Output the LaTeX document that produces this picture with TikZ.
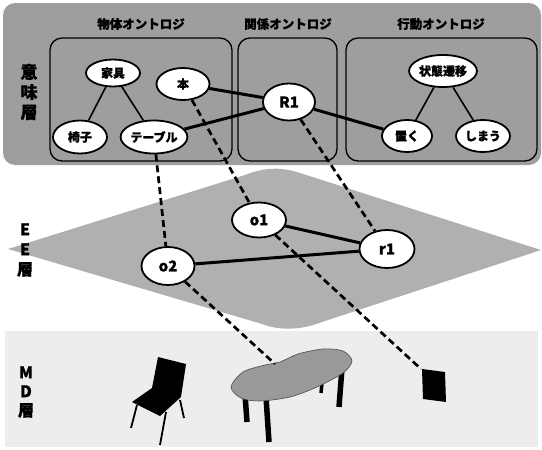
\documentclass[tikz,border=0pt]{standalone}
\usepackage{fontspec}
\newfontfamily\jp{Noto Sans CJK JP}[BoldFeatures={FakeBold=0.8}]
\usetikzlibrary{shapes.geometric}
\definecolor{topgray}{gray}{0.62}
\definecolor{eegray}{gray}{0.69}
\definecolor{mdgray}{gray}{0.93}
\definecolor{tablegray}{gray}{0.60}
\tikzset{
  ont/.style={ellipse, draw, line width=1.8pt, fill=white, inner sep=0pt,
    font=\jp\bfseries\fontsize{12}{12}\selectfont},
  ent/.style={ellipse, draw, line width=1.8pt, fill=white, inner sep=0pt,
    font=\jp\bfseries\fontsize{15}{15}\selectfont},
  ontbox/.style={draw, line width=1.3pt, rounded corners=12pt},
  boxtitle/.style={font=\jp\bfseries\fontsize{12.5}{12.5}\selectfont, inner sep=0pt},
  layerlabel/.style={font=\jp\bfseries\fontsize{16}{20}\selectfont, align=center, inner sep=0pt},
  thinedge/.style={line width=1.6pt},
  thickedge/.style={line width=3pt},
  linkedge/.style={line width=2.7pt, dash pattern=on 7pt off 4pt},
  tableleg/.style={line width=5.5pt},
  chairleg/.style={line width=1.8pt}
}
\begin{document}
\begin{tikzpicture}[x=1pt, y=-1pt]
\useasboundingbox (0,0) rectangle (542,450);
% semantic layer
\fill[topgray, rounded corners=12pt] (3,3) rectangle (541,165);
\draw[ontbox] (50,38) rectangle (232,161);
\draw[ontbox] (238,38) rectangle (337,161);
\draw[ontbox] (346,38) rectangle (537,161);
\node[boxtitle] (t1) at (141,24) {物体オントロジ};
\node[boxtitle] (t2) at (288,24) {関係オントロジ};
\node[boxtitle] (t3) at (441,24) {行動オントロジ};
\node[layerlabel, font=\jp\bfseries\fontsize{17}{20}\selectfont] (L1) at (29,92) {意\\味\\層};
% EE layer
\fill[eegray] (8,249) -- (245,175) .. controls (265,167) and (282,167) .. (300,173)
  -- (541,250) -- (322,322) .. controls (302,330) and (280,331) .. (262,324) -- cycle;
\node[layerlabel] (L2) at (25,250) {E\\E\\層};
% MD layer
\fill[mdgray] (5,331) rectangle (538,447);
\node[layerlabel, font=\jp\bfseries\fontsize{16}{19}\selectfont] (L3) at (26,392) {M\\D\\層};
% chair
\fill[black] (158,357) -- (186,364) -- (181,397) -- (160,416) -- (132,402) -- (152,388) -- cycle;
\draw[chairleg] (137,405) -- (131,428);
\draw[chairleg] (166,412) -- (160,445);
\draw[chairleg] (180,400) -- (184,418);
% table
\draw[tableleg] (245,394) -- (247,422);
\draw[tableleg] (266,397) -- (269,442);
\draw[tableleg] (342,368) -- (339,407);
\draw[line width=3.5pt] (322,383) -- (321,393);
\filldraw[fill=tablegray, draw=black!70, line width=0.6pt] plot[smooth cycle] coordinates
  {(231,387) (243,372) (265,365) (280,362) (298,354) (323,349) (343,351) (352,361) (343,373) (317,387) (290,397) (260,401) (241,398)};
% box
\fill[black] (422,369) -- (445,372) -- (446,402) -- (423,399) -- cycle;
\coordinate (tabletop) at (275,364);
\coordinate (boxtop) at (421,369);
% ontology nodes
\node[ont, minimum width=54pt, minimum height=27pt] (kagu) at (113,73) {家具};
\node[ont, minimum width=53pt, minimum height=32pt] (hon) at (183,84) {本};
\node[ont, minimum width=54pt, minimum height=33pt] (isu) at (80,137) {椅子};
\node[ont, minimum width=53pt, minimum height=33pt] (table) at (154,137) {テーブル};
\node[ent, minimum width=52pt, minimum height=37pt] (R1) at (289,102) {R1};
\node[ont, minimum width=54pt, minimum height=32pt] (jotai) at (443,71) {状態遷移};
\node[ont, minimum width=50pt, minimum height=32pt] (oku) at (407,136) {置く};
\node[ont, minimum width=54pt, minimum height=32pt] (shimau) at (483,136) {しまう};
% EE nodes
\node[ent, minimum width=54pt, minimum height=35pt] (o1) at (259,220) {o1};
\node[ent, minimum width=55pt, minimum height=38pt] (r1) at (387,249) {r1};
\node[ent, minimum width=53pt, minimum height=38pt] (o2) at (168,266) {o2};
% edges
\draw[thinedge] (kagu) -- (isu);
\draw[thinedge] (kagu) -- (table);
\draw[thinedge] (jotai) -- (oku);
\draw[thinedge] (jotai) -- (shimau);
\draw[thickedge] (hon) -- (R1);
\draw[thickedge] (table) -- (R1);
\draw[thickedge] (R1) -- (oku);
\draw[thickedge] (o1) -- (r1);
\draw[thickedge] (o2) -- (r1);
% links between layers
\draw[linkedge] (table) -- (o2);
\draw[linkedge] (hon) -- (o1);
\draw[linkedge] (R1) -- (r1);
\draw[linkedge] (o2) -- (tabletop);
\draw[linkedge] (o1) -- (boxtop);
\end{tikzpicture}
\end{document}
